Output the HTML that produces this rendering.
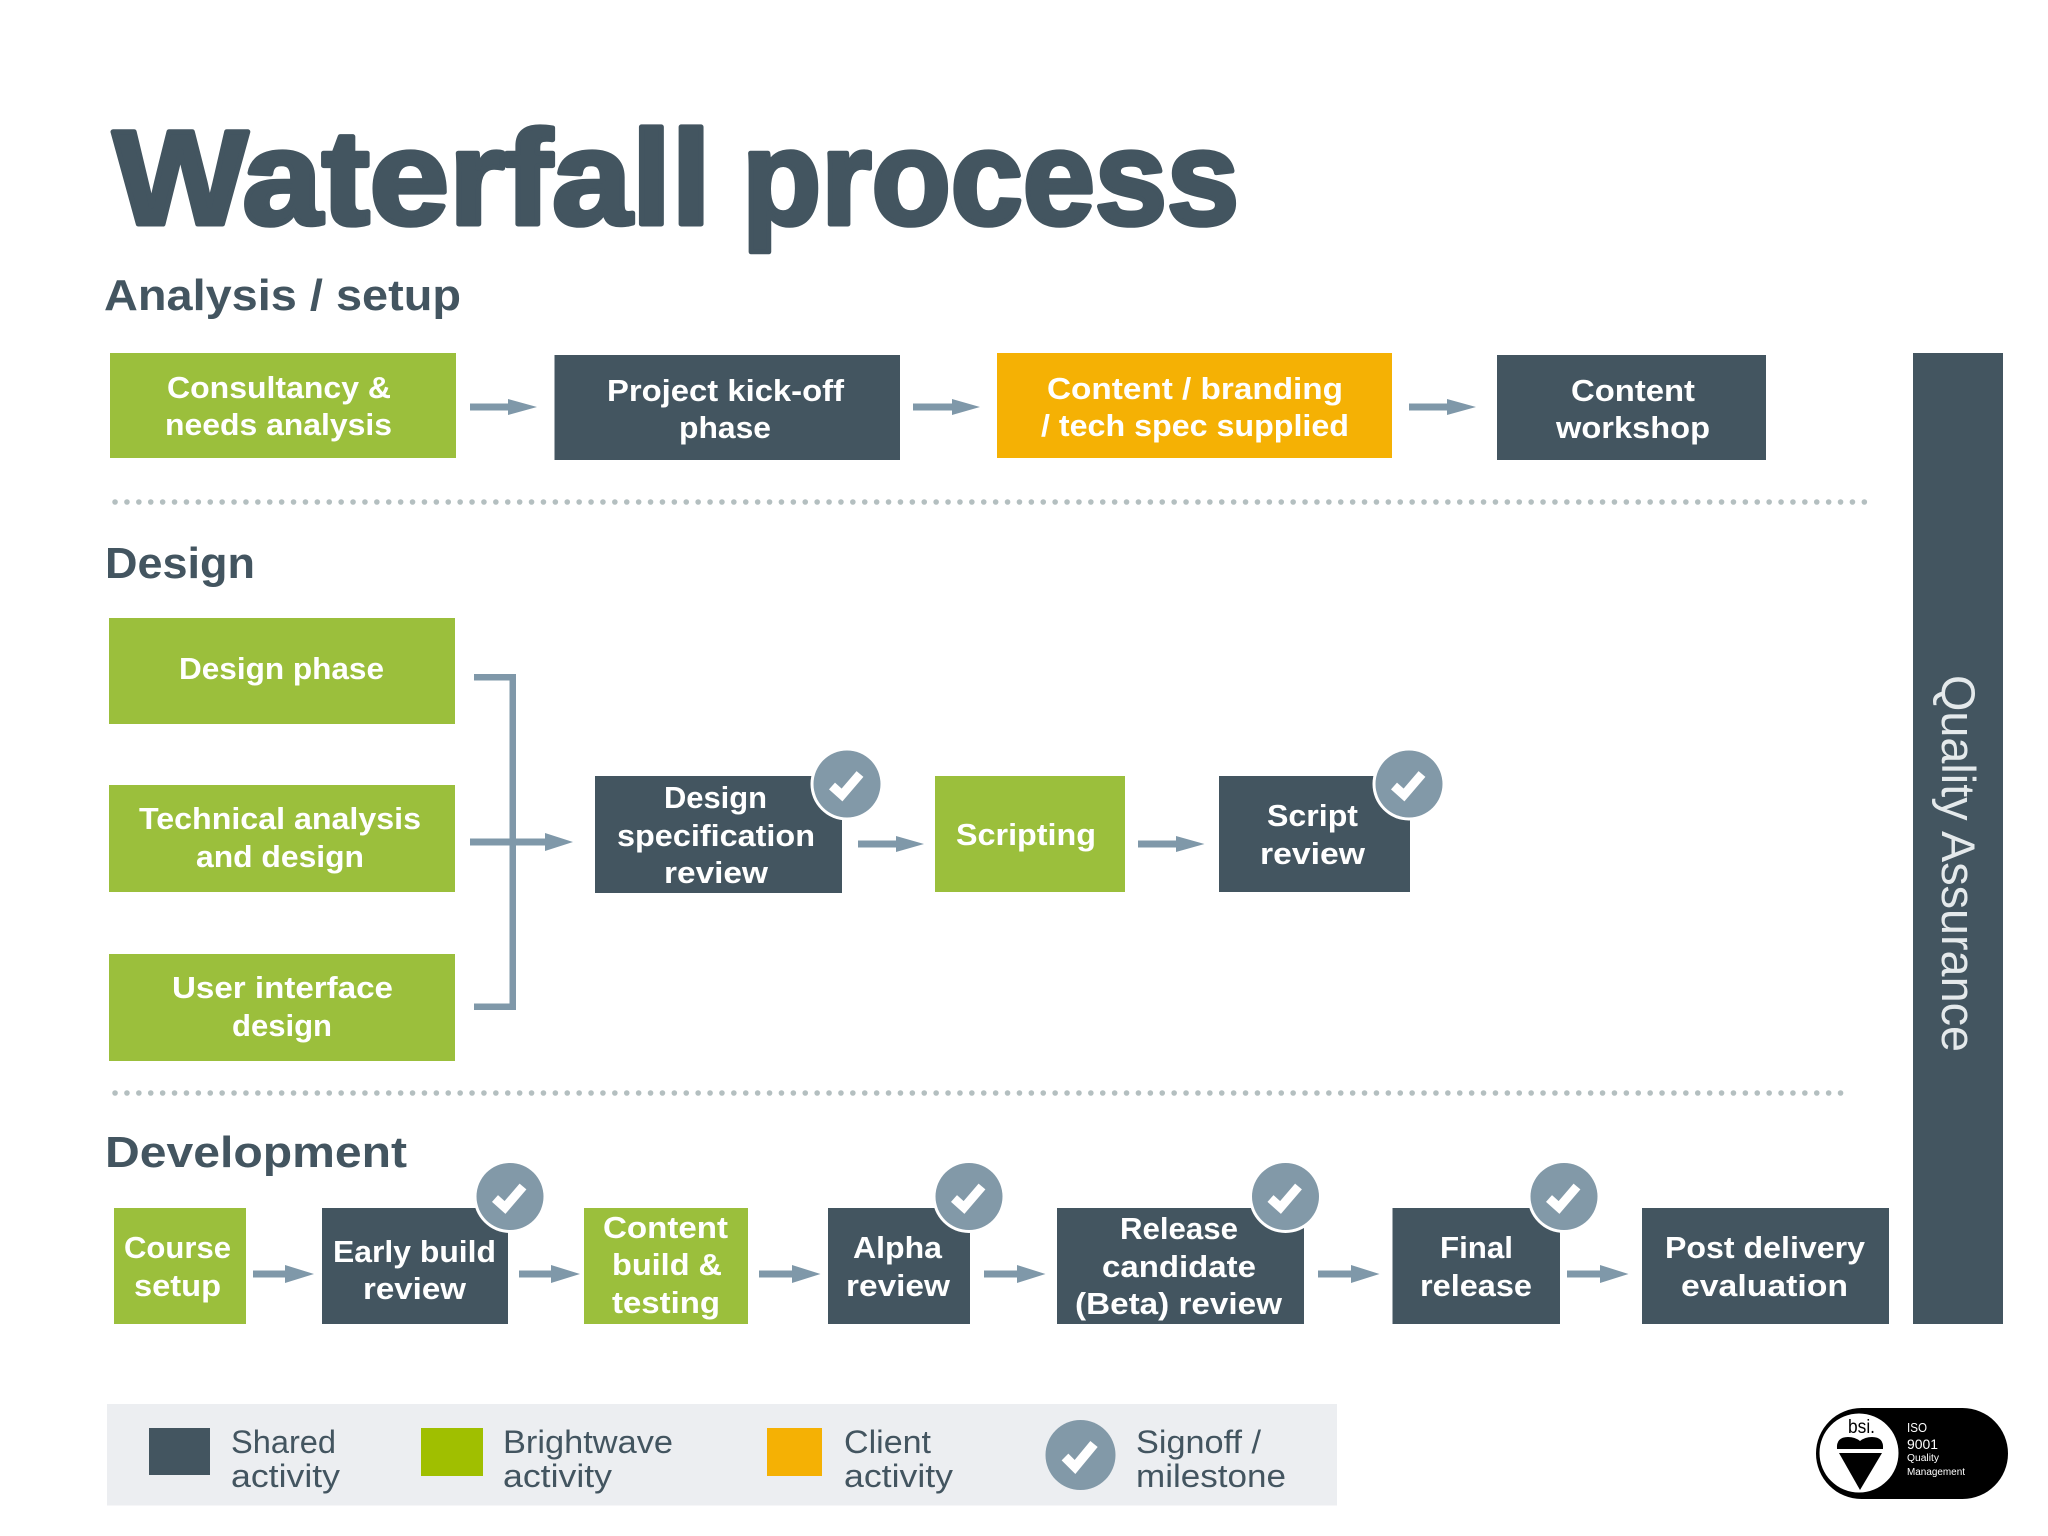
<!DOCTYPE html>
<html><head><meta charset="utf-8"><title>Waterfall process</title>
<style>
html,body{margin:0;padding:0;background:#fff;width:2048px;height:1536px;overflow:hidden}
svg{display:block}
text{font-family:"Liberation Sans",sans-serif}
.h{fill:#435560;font-weight:bold;font-size:44px}
.b{fill:#fff;font-weight:bold;font-size:31px}
.l{fill:#435560;font-size:32px}
.a{fill:#7f98a9}
</style></head><body>
<svg width="2048" height="1536" viewBox="0 0 2048 1536" xmlns="http://www.w3.org/2000/svg">
<defs>
<g id="ck"><circle r="36.5" fill="#fff"/><circle r="33.5" fill="#8299a8"/><polyline points="-15,2 -5,11 13,-10" fill="none" stroke="#fff" stroke-width="9"/></g>
</defs>

<g font-size="134" font-weight="bold" fill="#435560" stroke="#435560" stroke-width="5" stroke-linejoin="round">
<text x="113" y="224" textLength="598" lengthAdjust="spacingAndGlyphs">Waterfall</text>
<text x="742" y="224" textLength="497" lengthAdjust="spacingAndGlyphs">process</text>
</g>

<text class="h" x="104" y="310" textLength="357" lengthAdjust="spacingAndGlyphs">Analysis / setup</text>
<text class="h" x="105" y="578" textLength="150" lengthAdjust="spacingAndGlyphs">Design</text>
<text class="h" x="105" y="1167" textLength="302" lengthAdjust="spacingAndGlyphs">Development</text>

<!-- row 1 -->
<rect x="110" y="353" width="346" height="105" fill="#9bbf3c"/>
<rect x="554.5" y="355" width="345.5" height="105" fill="#435560"/>
<rect x="997" y="353" width="395" height="105" fill="#f5b104"/>
<rect x="1497" y="355" width="269" height="105" fill="#435560"/>
<rect x="1913" y="353" width="90" height="971" fill="#435560"/>

<path class="a" d="M470 403.500H508V399L537 407 508 415V410.500H470Z"/>
<path class="a" d="M913 403.500H952V399L980 407 952 415V410.500H913Z"/>
<path class="a" d="M1409 403.500H1447V399L1476 407 1447 415V410.500H1409Z"/>

<text class="b" x="167" y="398" textLength="224" lengthAdjust="spacingAndGlyphs">Consultancy &amp;</text>
<text class="b" x="165" y="435" textLength="227" lengthAdjust="spacingAndGlyphs">needs analysis</text>
<text class="b" x="607" y="401" textLength="237" lengthAdjust="spacingAndGlyphs">Project kick-off</text>
<text class="b" x="679" y="438" textLength="92" lengthAdjust="spacingAndGlyphs">phase</text>
<text class="b" x="1047" y="399" textLength="296" lengthAdjust="spacingAndGlyphs">Content / branding</text>
<text class="b" x="1041" y="436" textLength="308" lengthAdjust="spacingAndGlyphs">/ tech spec supplied</text>
<text class="b" x="1571" y="401" textLength="124" lengthAdjust="spacingAndGlyphs">Content</text>
<text class="b" x="1556" y="438" textLength="154" lengthAdjust="spacingAndGlyphs">workshop</text>

<!-- dotted dividers -->
<line x1="115" y1="502" x2="1865" y2="502" stroke="#b4bfc0" stroke-width="5.500" stroke-linecap="round" stroke-dasharray="0.1 11.8"/>
<line x1="115" y1="1093" x2="1841" y2="1093" stroke="#b4bfc0" stroke-width="5.500" stroke-linecap="round" stroke-dasharray="0.1 11.8"/>

<!-- design -->
<rect x="109" y="618" width="346" height="106" fill="#9bbf3c"/>
<rect x="109" y="785" width="346" height="107" fill="#9bbf3c"/>
<rect x="109" y="954" width="346" height="107" fill="#9bbf3c"/>
<text class="b" x="179" y="679" textLength="205" lengthAdjust="spacingAndGlyphs">Design phase</text>
<text class="b" x="139" y="829" textLength="282" lengthAdjust="spacingAndGlyphs">Technical analysis</text>
<text class="b" x="196" y="867" textLength="168" lengthAdjust="spacingAndGlyphs">and design</text>
<text class="b" x="172" y="998" textLength="221" lengthAdjust="spacingAndGlyphs">User interface</text>
<text class="b" x="232" y="1036" textLength="100" lengthAdjust="spacingAndGlyphs">design</text>

<path class="a" d="M474 674H516V1010H474V1003.500H509.500V680.500H474Z"/>
<path class="a" d="M470 838.500H545V833L573 842 545 851V845.500H470Z"/>

<rect x="595" y="776" width="247" height="117" fill="#435560"/>
<text class="b" x="664" y="808" textLength="103" lengthAdjust="spacingAndGlyphs">Design</text>
<text class="b" x="617" y="846" textLength="198" lengthAdjust="spacingAndGlyphs">specification</text>
<text class="b" x="664" y="883" textLength="104" lengthAdjust="spacingAndGlyphs">review</text>
<use href="#ck" x="847" y="784"/>
<path class="a" d="M858 840.500H896V836L924 844 896 852V847.500H858Z"/>

<rect x="935" y="776" width="190" height="116" fill="#9bbf3c"/>
<text class="b" x="956" y="845" textLength="140" lengthAdjust="spacingAndGlyphs">Scripting</text>
<path class="a" d="M1138 840.500H1176V836L1204.500 844 1176 852V847.500H1138Z"/>

<rect x="1219" y="776" width="191" height="116" fill="#435560"/>
<text class="b" x="1267" y="826" textLength="91" lengthAdjust="spacingAndGlyphs">Script</text>
<text class="b" x="1260" y="864" textLength="105" lengthAdjust="spacingAndGlyphs">review</text>
<use href="#ck" x="1409" y="784"/>

<!-- development -->
<rect x="114" y="1208" width="132" height="116" fill="#9bbf3c"/>
<rect x="322" y="1208" width="186" height="116" fill="#435560"/>
<rect x="584" y="1208" width="164" height="116" fill="#9bbf3c"/>
<rect x="828" y="1208" width="142" height="116" fill="#435560"/>
<rect x="1057" y="1208" width="247" height="116" fill="#435560"/>
<rect x="1392.500" y="1208" width="167.500" height="116" fill="#435560"/>
<rect x="1642" y="1208" width="247" height="116" fill="#435560"/>

<path class="a" d="M253 1270.500H285V1265L314 1274 285 1283V1277.500H253Z"/>
<path class="a" d="M519 1270.500H551V1265L580 1274 551 1283V1277.500H519Z"/>
<path class="a" d="M759 1270.500H792V1265L820.500 1274 792 1283V1277.500H759Z"/>
<path class="a" d="M984 1270.500H1017V1265L1045.500 1274 1017 1283V1277.500H984Z"/>
<path class="a" d="M1318 1270.500H1351V1265L1379.500 1274 1351 1283V1277.500H1318Z"/>
<path class="a" d="M1567 1270.500H1600V1265L1628.500 1274 1600 1283V1277.500H1567Z"/>

<text class="b" x="124" y="1258" textLength="107" lengthAdjust="spacingAndGlyphs">Course</text>
<text class="b" x="134" y="1296" textLength="87" lengthAdjust="spacingAndGlyphs">setup</text>
<text class="b" x="333" y="1262" textLength="163" lengthAdjust="spacingAndGlyphs">Early build</text>
<text class="b" x="363" y="1299" textLength="103" lengthAdjust="spacingAndGlyphs">review</text>
<text class="b" x="603" y="1238" textLength="125" lengthAdjust="spacingAndGlyphs">Content</text>
<text class="b" x="612" y="1275" textLength="110" lengthAdjust="spacingAndGlyphs">build &amp;</text>
<text class="b" x="612" y="1313" textLength="108" lengthAdjust="spacingAndGlyphs">testing</text>
<text class="b" x="853" y="1258" textLength="89" lengthAdjust="spacingAndGlyphs">Alpha</text>
<text class="b" x="846" y="1296" textLength="104" lengthAdjust="spacingAndGlyphs">review</text>
<text class="b" x="1120" y="1239" textLength="118" lengthAdjust="spacingAndGlyphs">Release</text>
<text class="b" x="1102" y="1277" textLength="154" lengthAdjust="spacingAndGlyphs">candidate</text>
<text class="b" x="1075" y="1314" textLength="207" lengthAdjust="spacingAndGlyphs">(Beta) review</text>
<text class="b" x="1440" y="1258" textLength="73" lengthAdjust="spacingAndGlyphs">Final</text>
<text class="b" x="1420" y="1296" textLength="112" lengthAdjust="spacingAndGlyphs">release</text>
<text class="b" x="1665" y="1258" textLength="200" lengthAdjust="spacingAndGlyphs">Post delivery</text>
<text class="b" x="1681" y="1296" textLength="167" lengthAdjust="spacingAndGlyphs">evaluation</text>

<use href="#ck" x="510" y="1196.500"/>
<use href="#ck" x="969" y="1196.500"/>
<use href="#ck" x="1285.500" y="1196.500"/>
<use href="#ck" x="1564" y="1196.500"/>

<!-- quality assurance -->
<text transform="translate(1942 675) rotate(90)" x="0" y="0" textLength="377" lengthAdjust="spacingAndGlyphs" font-size="47" fill="#e4e9eb">Quality Assurance</text>

<!-- legend -->
<rect x="107" y="1404" width="1230" height="101.500" fill="#eceef1"/>
<rect x="149" y="1428" width="61" height="47" fill="#435560"/>
<rect x="421" y="1428" width="62" height="48" fill="#a0bf00"/>
<rect x="767" y="1428" width="55" height="48" fill="#f5b104"/>
<circle cx="1080.500" cy="1455" r="35" fill="#8299a8"/>
<polyline points="1065,1457 1075,1467 1094,1444" fill="none" stroke="#fff" stroke-width="9.500"/>
<text class="l" x="231" y="1453" textLength="105" lengthAdjust="spacingAndGlyphs">Shared</text>
<text class="l" x="231" y="1487" textLength="109" lengthAdjust="spacingAndGlyphs">activity</text>
<text class="l" x="503" y="1453" textLength="170" lengthAdjust="spacingAndGlyphs">Brightwave</text>
<text class="l" x="503" y="1487" textLength="109" lengthAdjust="spacingAndGlyphs">activity</text>
<text class="l" x="844" y="1453" textLength="87" lengthAdjust="spacingAndGlyphs">Client</text>
<text class="l" x="844" y="1487" textLength="109" lengthAdjust="spacingAndGlyphs">activity</text>
<text class="l" x="1136" y="1453" textLength="125" lengthAdjust="spacingAndGlyphs">Signoff /</text>
<text class="l" x="1136" y="1487" textLength="150" lengthAdjust="spacingAndGlyphs">milestone</text>

<!-- bsi logo -->
<rect x="1816" y="1408" width="192" height="91" rx="45.500" ry="45.500" fill="#000"/>
<circle cx="1859" cy="1453" r="39.500" fill="#fff"/>
<path d="M1837 1449Q1836 1437 1848 1437Q1855 1437 1860 1441Q1865 1437 1872 1437Q1884 1437 1883 1449Z" fill="#000"/>
<path d="M1839 1453H1882L1860 1490Z" fill="#000"/>
<text x="1848" y="1433" textLength="27" lengthAdjust="spacingAndGlyphs" font-size="19" fill="#000">bsi.</text>
<text x="1907" y="1432" textLength="20" lengthAdjust="spacingAndGlyphs" font-size="13" fill="#fff">ISO</text>
<text x="1907" y="1449" textLength="31" lengthAdjust="spacingAndGlyphs" font-size="14" fill="#fff">9001</text>
<text x="1907" y="1461" textLength="32" lengthAdjust="spacingAndGlyphs" font-size="10" fill="#fff">Quality</text>
<text x="1907" y="1475" textLength="58" lengthAdjust="spacingAndGlyphs" font-size="10" fill="#fff">Management</text>
</svg>
</body></html>
